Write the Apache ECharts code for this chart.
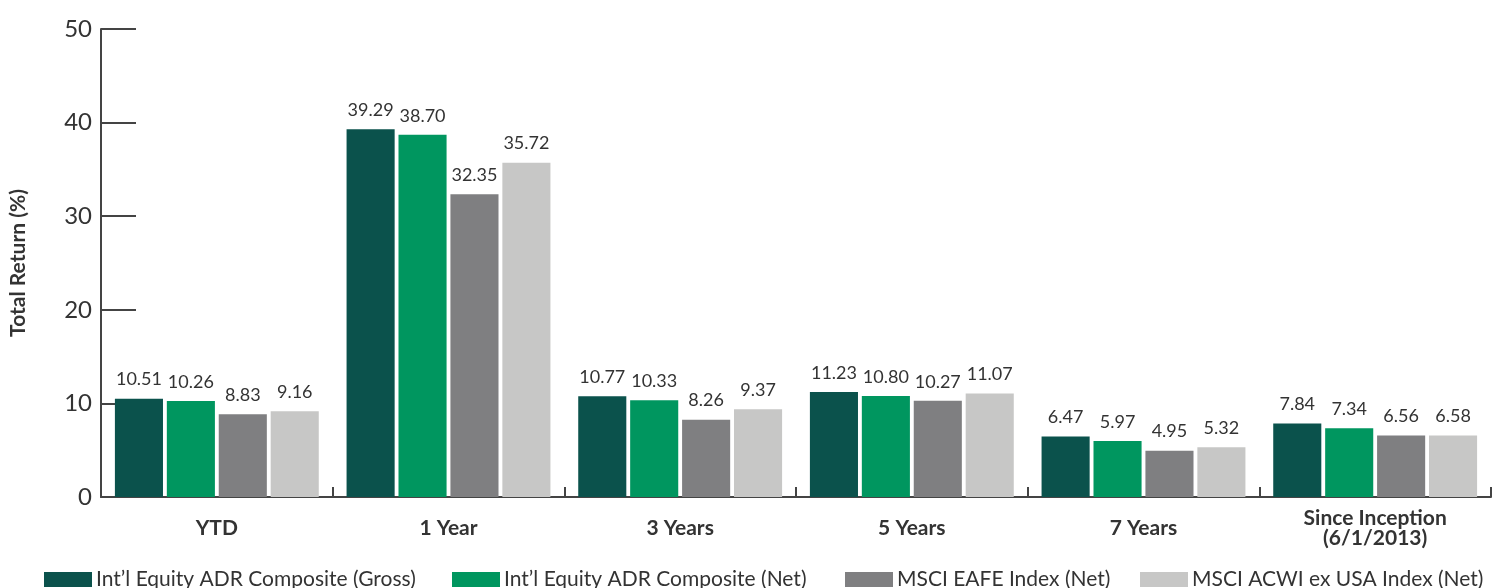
<!DOCTYPE html>
<html><head><meta charset="utf-8">
<script src="https://cdn.jsdelivr.net/npm/echarts@6/dist/echarts.min.js"></script>
<style>html,body{margin:0;padding:0;background:#fff}#c{width:1496px;height:588px}</style>
</head><body><div id="c"></div>
<script>
const categories = ['YTD', '1 Year', '3 Years', '5 Years', '7 Years', 'Since Inception\n(6/1/2013)'];
const seriesNames = ['Int\u2019l Equity ADR Composite (Gross)', 'Int\u2019l Equity ADR Composite (Net)', 'MSCI EAFE Index (Net)', 'MSCI ACWI ex USA Index (Net)'];
const gross = [10.51, 39.29, 10.77, 11.23, 6.47, 7.84];
const net = [10.26, 38.70, 10.33, 10.80, 5.97, 7.34];
const eafe = [8.83, 32.35, 8.26, 10.27, 4.95, 6.56];
const acwi = [9.16, 35.72, 9.37, 11.07, 5.32, 6.58];
const yTicks = [0, 10, 20, 30, 40, 50];
const colors = ['#0b524c', '#00965f', '#7f7f81', '#c7c7c6'];
const legendLefts = [44, 452, 845, 1140];
const font = 'Lato, "Noto Sans", sans-serif';

const chart = echarts.init(document.getElementById('c'));
const mk = (name, data, i) => ({
  name, type: 'bar', data, barGap: '8%', barCategoryGap: '12%',
  itemStyle: { color: colors[i] },
  label: { show: true, position: 'top', distance: 10, color: '#333', fontSize: 18, fontFamily: font,
           formatter: p => p.value.toFixed(2) }
});
chart.setOption({
  animation: false,
  textStyle: { fontFamily: font },
  grid: { left: 95, right: 5, top: 29, bottom: 91, containLabel: false },
  legend: seriesNames.map((n, i) => ({
    left: legendLefts[i], top: 569, padding: 0, itemWidth: 48, itemHeight: 15, icon: 'rect',
    textStyle: { fontSize: 21, color: '#333', fontFamily: font, padding: [0, 0, 0, -1] },
    data: [n]
  })),
  xAxis: {
    type: 'category', data: categories,
    axisLine: { lineStyle: { color: '#444', width: 2 } },
    axisTick: { show: true, inside: true, length: 10, lineStyle: { color: '#444', width: 2 } },
    axisLabel: { fontSize: 21, fontWeight: 'bold', color: '#333', margin: 31, verticalAlign: 'middle', lineHeight: 20, fontFamily: font }
  },
  yAxis: {
    type: 'value', min: yTicks[0], max: yTicks[yTicks.length - 1], interval: 10,
    name: 'Total Return (%)', nameLocation: 'middle', nameGap: 72, nameRotate: 90,
    nameTextStyle: { fontSize: 21, fontWeight: 'bold', color: '#333', fontFamily: font },
    axisLine: { show: true, lineStyle: { color: '#444', width: 2 } },
    axisTick: { show: true, inside: true, length: 35, lineStyle: { color: '#444', width: 2 } },
    splitLine: { show: false },
    axisLabel: { fontSize: 24, color: '#333', margin: 9, fontFamily: font }
  },
  series: [mk(seriesNames[0], gross, 0), mk(seriesNames[1], net, 1), mk(seriesNames[2], eafe, 2), mk(seriesNames[3], acwi, 3)]
});
</script></body></html>
